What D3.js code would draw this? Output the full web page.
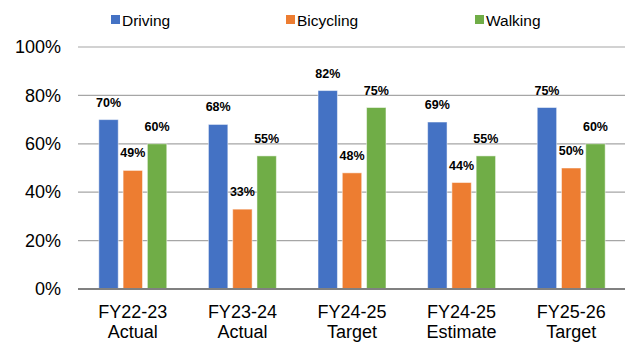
<!DOCTYPE html>
<html>
<head>
<meta charset="utf-8">
<script src="https://cdn.jsdelivr.net/npm/d3@7"></script>
<style>
  body { margin: 0; background: #fff; }
  svg { display: block; font-family: "Liberation Sans", Arial, sans-serif; }
</style>
</head>
<body>
<div id="chart"></div>
<script>
// chart data
var categories = [["FY22-23", "Actual"], ["FY23-24", "Actual"], ["FY24-25", "Target"], ["FY24-25", "Estimate"], ["FY25-26", "Target"]];
var seriesNames = ["Driving", "Bicycling", "Walking"];
var driving = [0.70, 0.68, 0.82, 0.69, 0.75];
var bicycling = [0.49, 0.33, 0.48, 0.44, 0.50];
var walking = [0.60, 0.55, 0.75, 0.55, 0.60];
var yTicks = [0, 0.2, 0.4, 0.6, 0.8, 1.0];

var colors = ["#4472C4", "#ED7D31", "#70AD47"];
var allSeries = [driving, bicycling, walking];

var width = 625,
  height = 344;

var svg = d3.select("#chart").append("svg")
  .attr("width", width)
  .attr("height", height);

var x0 = d3.scaleBand()
  .domain(d3.range(categories.length))
  .range([78, 626])
  .paddingInner(0.38)
  .paddingOuter(0.19);

var x1 = d3.scaleBand()
  .domain(d3.range(seriesNames.length))
  .range([0, x0.bandwidth()])
  .paddingInner(0.2);

var y = d3.scaleLinear()
  .domain([0, 1])
  .range([289, 47]);

// gridlines
svg.append("g")
  .selectAll("line")
  .data(yTicks.filter(function (d) { return d > 0; }))
  .enter()
  .append("line")
  .attr("x1", 78)
  .attr("x2", width)
  .attr("y1", function (d) { return y(d); })
  .attr("y2", function (d) { return y(d); })
  .attr("stroke", "#A6A6A6")
  .attr("stroke-width", 1.2);

// y axis labels
var yAxis = d3.axisLeft(y)
  .tickValues(yTicks)
  .tickFormat(d3.format(".0%"))
  .tickSize(0)
  .tickPadding(17);

svg.append("g")
  .attr("transform", "translate(78,0)")
  .call(yAxis)
  .call(function (g) { g.select(".domain").remove(); })
  .selectAll("text")
  .attr("font-size", "18px")
  .attr("font-family", "Liberation Sans, Arial, sans-serif")
  .attr("fill", "#000");

// bars
var groups = svg.append("g")
  .selectAll("g")
  .data(categories)
  .enter()
  .append("g")
  .attr("transform", function (d, i) { return "translate(" + x0(i) + ",0)"; });

groups.selectAll("rect")
  .data(function (d, i) { return allSeries.map(function (s, j) { return { s: j, v: s[i] }; }); })
  .enter()
  .append("rect")
  .attr("x", function (d) { return x1(d.s); })
  .attr("y", function (d) { return y(d.v); })
  .attr("width", x1.bandwidth())
  .attr("height", function (d) { return y(0) - y(d.v); })
  .attr("fill", function (d) { return colors[d.s]; })
  .attr("stroke", "#ffffff")
  .attr("stroke-opacity", 0.5)
  .attr("stroke-width", 1);

// value labels
groups.selectAll("text")
  .data(function (d, i) { return allSeries.map(function (s, j) { return { s: j, v: s[i] }; }); })
  .enter()
  .append("text")
  .attr("x", function (d) { return x1(d.s) + x1.bandwidth() / 2; })
  .attr("y", function (d) { return y(d.v) - 13; })
  .attr("text-anchor", "middle")
  .attr("font-size", "12.5px")
  .attr("font-weight", "bold")
  .attr("fill", "#000")
  .text(function (d) { return d3.format(".0%")(d.v); });

// zero baseline
svg.append("line")
  .attr("x1", 78)
  .attr("x2", width)
  .attr("y1", y(0))
  .attr("y2", y(0))
  .attr("stroke", "#808080")
  .attr("stroke-width", 2);

// category labels
var catLabels = svg.append("g")
  .selectAll("text")
  .data(categories)
  .enter()
  .append("text")
  .attr("x", function (d, i) { return x0(i) + x0.bandwidth() / 2; })
  .attr("y", 318)
  .attr("text-anchor", "middle")
  .attr("font-size", "18px")
  .attr("fill", "#000");

catLabels.append("tspan")
  .attr("x", function (d, i) { return x0(i) + x0.bandwidth() / 2; })
  .text(function (d) { return d[0]; });
catLabels.append("tspan")
  .attr("x", function (d, i) { return x0(i) + x0.bandwidth() / 2; })
  .attr("dy", 20)
  .text(function (d) { return d[1]; });

// legend
var legendX = [111, 286, 475];
var legend = svg.append("g")
  .selectAll("g")
  .data(seriesNames)
  .enter()
  .append("g")
  .attr("transform", function (d, i) { return "translate(" + legendX[i] + ",15)"; });

legend.append("rect")
  .attr("width", 9)
  .attr("height", 9)
  .attr("fill", function (d, i) { return colors[i]; });

legend.append("text")
  .attr("x", 11)
  .attr("y", 11)
  .attr("font-size", "15.5px")
  .attr("fill", "#000")
  .text(function (d) { return d; });
</script>
</body>
</html>
